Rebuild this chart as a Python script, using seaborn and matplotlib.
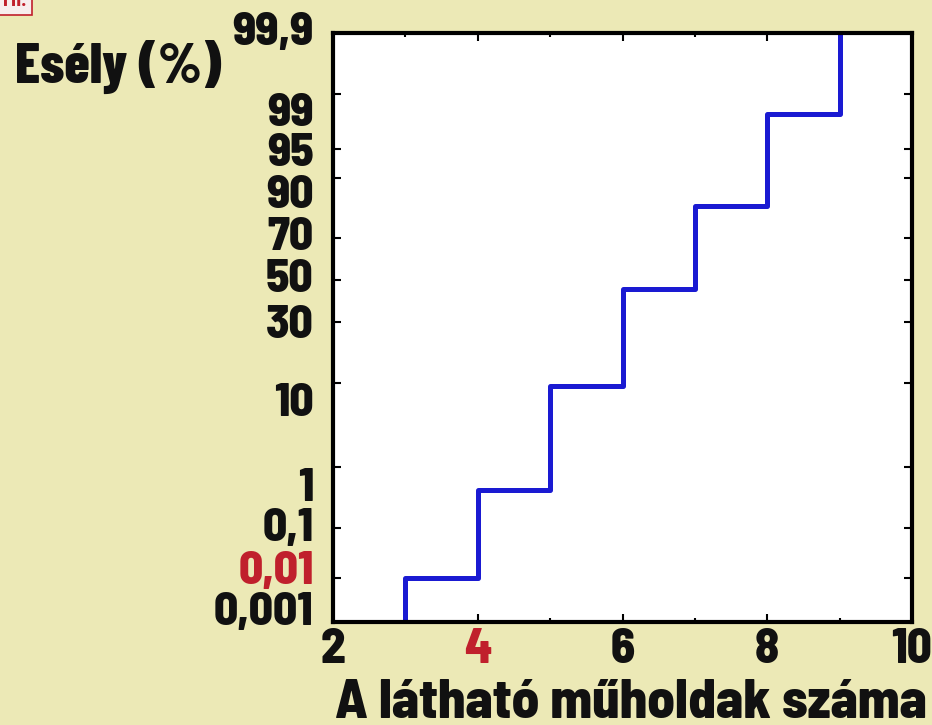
import numpy as np
import pandas as pd
import seaborn as sns
import matplotlib
matplotlib.use("Agg")
import matplotlib.pyplot as plt
from matplotlib.ticker import FixedLocator, NullLocator
from matplotlib.transforms import ScaledTranslation
from statistics import NormalDist

# Cumulative probability (%) of seeing at most n satellites
satellites = [2, 3, 4, 5, 6, 7, 8, 9]
cumulative_pct = [0, 0.01, 0.44, 9.3, 45.7, 82.5, 98.1, 100]

# Probability-axis ticks and their Hungarian-formatted labels
prob_ticks = [0.001, 0.01, 0.1, 1, 10, 30, 50, 70, 90, 95, 99, 99.9]
prob_labels = ["0,001", "0,01", "0,1", "1", "10", "30", "50", "70", "90", "95", "99", "99,9"]
x_ticks = [2, 4, 6, 8, 10]
x_labels = ["2", "4", "6", "8", "10"]
x_minor = [3, 5, 7, 9]
highlight_y_label = "0,01"
highlight_x_label = "4"

# Layout: vertical nudges (pixels, downward) applied to each y tick label
y_label_nudge_px = [-13, -11, -3, 18, 16, -1, -5, -5, 14, 1, 15, -5]

BG = "#ece9b6"
BLUE = "#1a1ad2"
RED = "#c0202c"
INK = "#111111"
WEIGHT = 800
TICK_FONT = ["Barlow Semi Condensed", "DejaVu Sans"]
TITLE_FONT = ["Barlow Condensed", "DejaVu Sans"]

_nd = NormalDist()
_ppf = np.vectorize(_nd.inv_cdf, otypes=[float])
_cdf = np.vectorize(_nd.cdf, otypes=[float])


def probit(p):
    p = np.clip(np.asarray(p, dtype=float) / 100.0, 1e-9, 1 - 1e-9)
    return _ppf(p)


def inv_probit(z):
    return _cdf(np.asarray(z, dtype=float)) * 100.0


sns.set_style("ticks")
plt.rcParams["font.family"] = TICK_FONT

fig = plt.figure(figsize=(9.32, 7.25), dpi=100, facecolor=BG)
ax = fig.add_axes([333 / 932, 1 - 622 / 725, 579 / 932, 589 / 725])
ax.set_facecolor("white")

df = pd.DataFrame({"n": satellites, "p": cumulative_pct})
sns.lineplot(data=df, x="n", y="p", ax=ax, estimator=None,
             drawstyle="steps-post", color=BLUE, linewidth=3.6)

ax.set_yscale("function", functions=(probit, inv_probit))
ax.set_ylim(0.001, 99.9)
ax.set_xlim(2, 10)

for side in ["left", "right", "top", "bottom"]:
    ax.spines[side].set_visible(True)
    ax.spines[side].set_linewidth(3)
    ax.spines[side].set_color("black")

ax.set_yticks(prob_ticks, labels=prob_labels, fontsize=34, fontweight=WEIGHT,
              color=INK, family=TICK_FONT)
ax.yaxis.set_minor_locator(NullLocator())
ax.set_xticks(x_ticks, labels=x_labels, fontsize=35, fontweight=WEIGHT,
              color=INK, family=TICK_FONT)
ax.xaxis.set_minor_locator(FixedLocator(x_minor))

ax.tick_params(axis="both", which="both", direction="in", top=True, right=True,
               width=1.5, color="black")
ax.tick_params(which="major", length=6)
ax.tick_params(axis="x", which="minor", length=3)
ax.tick_params(axis="y", pad=14)
ax.tick_params(axis="x", pad=4)

for lbl in ax.get_yticklabels():
    if lbl.get_text() == highlight_y_label:
        lbl.set_color(RED)
for lbl in ax.get_xticklabels():
    if lbl.get_text() == highlight_x_label:
        lbl.set_color(RED)

for tick, dy in zip(ax.yaxis.get_major_ticks(), y_label_nudge_px):
    tick.label1.set_transform(tick.label1.get_transform()
                              + ScaledTranslation(0, -dy / 100, fig.dpi_scale_trans))

ax.set_xlabel("A látható műholdak száma", fontsize=39.5, fontweight=WEIGHT,
              color=INK, family=TICK_FONT)
ax.xaxis.set_label_coords(0.515, -0.163)
ax.xaxis.label.set_va("baseline")
ax.xaxis.label.set_ha("center")

ax.set_ylabel("Esély (%)", rotation=0, fontsize=41, fontweight=WEIGHT,
              color=INK, family=TITLE_FONT)
ax.yaxis.set_label_coords(-0.549, 0.915)
ax.yaxis.label.set_va("baseline")
ax.yaxis.label.set_ha("left")

fig.text(3 / 932, 1 - 6 / 725, "MI.", color=RED, fontsize=15, fontweight="bold",
         va="baseline", ha="left",
         bbox=dict(facecolor="#f7eeee", edgecolor=RED, linewidth=1.2,
                   boxstyle="square,pad=0.25"))

fig.savefig("out.png", dpi=100, facecolor=BG)
